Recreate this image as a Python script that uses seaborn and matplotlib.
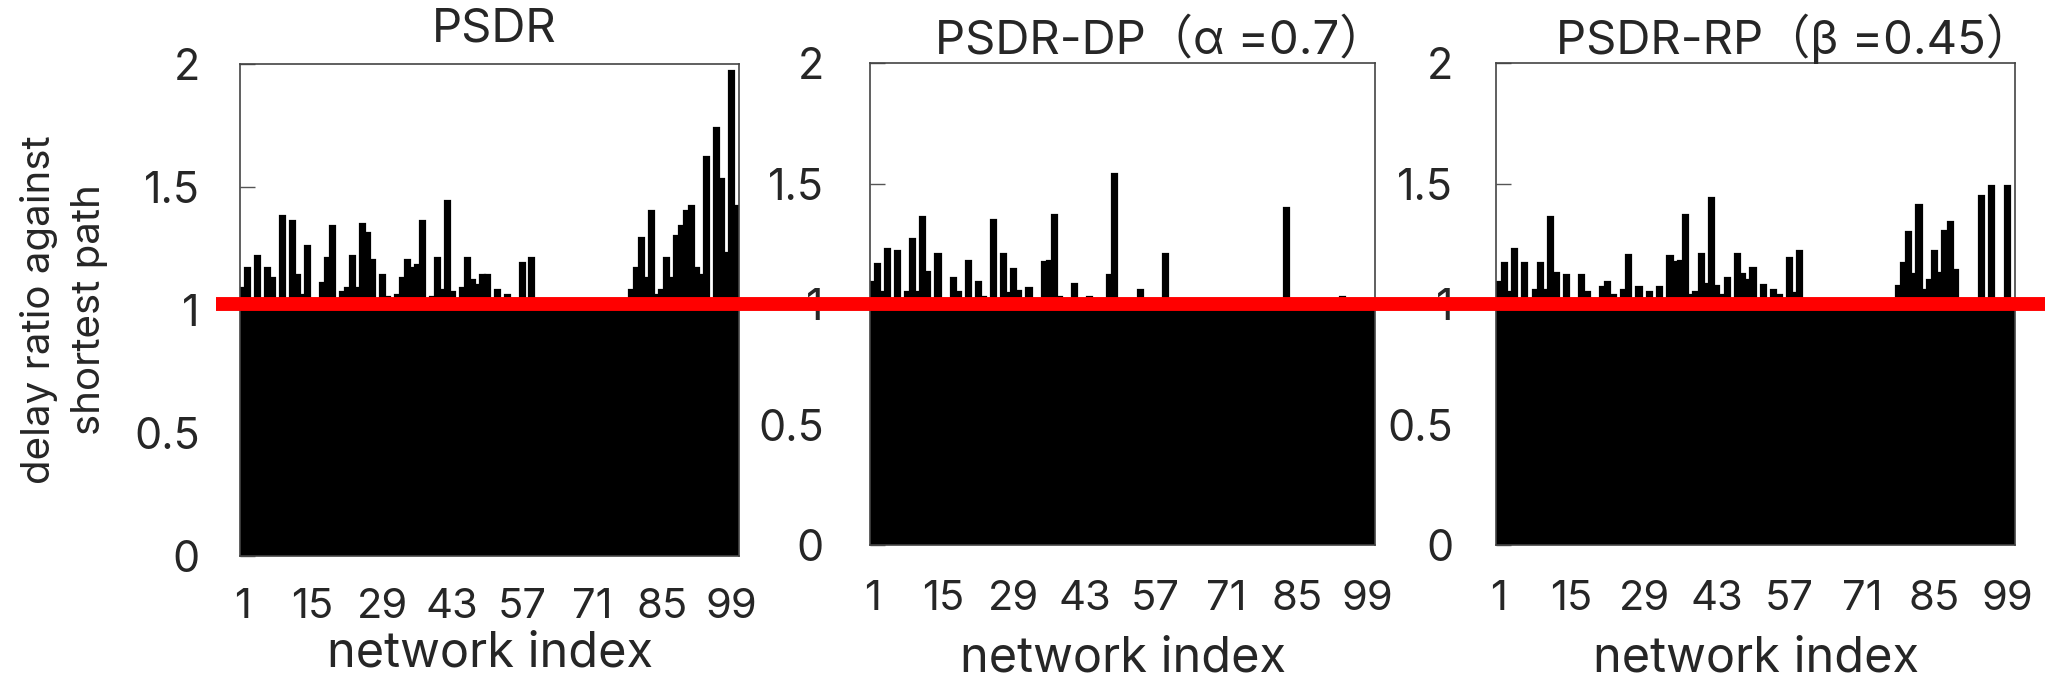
import pandas as pd
import matplotlib.pyplot as plt
import seaborn as sns
from matplotlib.lines import Line2D
from matplotlib.transforms import blended_transform_factory

# ============================================
# Data
# ============================================
network_index = list(range(1, 101))

psdr = [
    1.09, 1.17, 1.04, 1.22, 1.02, 1.17, 1.13, 1.02, 1.38, 1.03,
    1.36, 1.14, 1.06, 1.26, 1.00, 1.00, 1.11, 1.21, 1.34, 1.02,
    1.07, 1.09, 1.22, 1.09, 1.35, 1.31, 1.20, 1.02, 1.14, 1.05,
    1.00, 1.06, 1.13, 1.20, 1.17, 1.18, 1.36, 1.02, 1.05, 1.21,
    1.08, 1.44, 1.07, 1.02, 1.09, 1.21, 1.12, 1.10, 1.14, 1.14,
    1.02, 1.08, 1.02, 1.06, 1.00, 1.00, 1.19, 1.00, 1.21, 1.00,
    1.00, 1.00, 1.00, 1.00, 1.00, 1.00, 1.00, 1.00, 1.00, 1.00,
    1.00, 1.00, 1.00, 1.00, 1.00, 1.00, 1.00, 1.00, 1.08, 1.17,
    1.29, 1.13, 1.40, 1.06, 1.08, 1.21, 1.13, 1.30, 1.34, 1.40,
    1.42, 1.17, 1.14, 1.62, 1.02, 1.74, 1.53, 1.23, 1.97, 1.42,
]

psdr_dp = [
    1.09, 1.165, 1.05, 1.23, 1.00, 1.22, 1.00, 1.05, 1.27, 1.05,
    1.36, 1.135, 1.00, 1.21, 1.00, 1.00, 1.11, 1.05, 1.00, 1.18,
    1.00, 1.09, 1.03, 1.00, 1.35, 1.00, 1.21, 1.045, 1.145, 1.055,
    1.00, 1.065, 1.00, 1.00, 1.175, 1.18, 1.37, 1.03, 1.00, 1.00,
    1.085, 1.00, 1.00, 1.03, 1.00, 1.00, 1.00, 1.12, 1.54, 1.00,
    1.00, 1.00, 1.00, 1.06, 1.00, 1.00, 1.00, 1.00, 1.21, 1.00,
    1.00, 1.00, 1.00, 1.00, 1.00, 1.00, 1.00, 1.00, 1.00, 1.00,
    1.00, 1.00, 1.00, 1.00, 1.00, 1.00, 1.00, 1.00, 1.00, 1.00,
    1.00, 1.00, 1.40, 1.00, 1.00, 1.00, 1.00, 1.00, 1.00, 1.00,
    1.00, 1.00, 1.00, 1.03, 1.00, 1.00, 1.00, 1.00, 1.00, 1.00,
]

psdr_rp = [
    1.09, 1.17, 1.05, 1.23, 1.00, 1.17, 1.00, 1.06, 1.17, 1.06,
    1.36, 1.13, 1.02, 1.12, 1.00, 1.00, 1.12, 1.05, 1.00, 1.00,
    1.07, 1.09, 1.04, 1.00, 1.06, 1.205, 1.00, 1.07, 1.00, 1.05,
    1.00, 1.07, 1.00, 1.20, 1.175, 1.18, 1.37, 1.04, 1.05, 1.21,
    1.085, 1.44, 1.075, 1.04, 1.11, 1.00, 1.21, 1.125, 1.10, 1.15,
    1.00, 1.08, 1.00, 1.06, 1.04, 1.00, 1.19, 1.045, 1.22, 1.00,
    1.00, 1.00, 1.00, 1.00, 1.00, 1.00, 1.00, 1.00, 1.00, 1.00,
    1.01, 1.00, 1.00, 1.00, 1.00, 1.00, 1.00, 1.075, 1.17, 1.30,
    1.125, 1.41, 1.06, 1.10, 1.22, 1.13, 1.305, 1.34, 1.14, 1.00,
    1.00, 1.00, 1.00, 1.45, 1.00, 1.49, 1.00, 1.00, 1.49, 1.00,
]

panel_titles = ["PSDR", "PSDR-DP（α =0.7）", "PSDR-RP（β =0.45）"]
y_ticks = [0, 0.5, 1, 1.5, 2]
y_tick_labels = ["0", "0.5", "1", "1.5", "2"]
x_tick_labels = ["1", "15", "29", "43", "57", "71", "85", "99"]
shortest_path_ratio = 1.0

# ============================================
# Style
# ============================================
sns.set_theme(style="white")
plt.rcParams["font.family"] = ["Inter", "Noto Sans CJK SC", "DejaVu Sans"]

fig = plt.figure(figsize=(20.45, 6.82), dpi=100)

# panel layout: [left, bottom, width, height] in figure fraction
axes_rects = [
    [0.1174, 0.1852, 0.2440, 0.7214],
    [0.4253, 0.2009, 0.2472, 0.7063],
    [0.7317, 0.2009, 0.2536, 0.7063],
]
title_pads = [16, 7, 7]
title_x = [0.51, 0.575, 0.575]
ytick_pads = [29, 33, 31]
xtick_pads = [23, 25, 25]
xlabel_y = [-0.198, -0.236, -0.236]

series = [psdr, psdr_dp, psdr_rp]
axes = []

for i, values in enumerate(series):
    ax = fig.add_axes(axes_rects[i])
    df = pd.DataFrame({"network": network_index, "ratio": values})
    sns.barplot(data=df, x="network", y="ratio",
                color="black", saturation=1, width=1.0,
                edgecolor="black", linewidth=1.6,
                errorbar=None, ax=ax)

    ax.set_ylim(0, 2)
    ax.set_xlim(-0.5, len(network_index) - 0.5)
    ax.set_yticks(y_ticks)
    ax.set_yticklabels(y_tick_labels)
    ax.set_xticks([network_index.index(int(l)) for l in x_tick_labels])
    ax.set_xticklabels(x_tick_labels)

    ax.tick_params(axis="y", direction="in", left=True, length=11, width=1,
                   color="#555555", labelsize=31, pad=ytick_pads[i])
    ax.tick_params(axis="x", bottom=False, length=0, labelsize=30,
                   pad=xtick_pads[i])

    for side in ["top", "right", "bottom", "left"]:
        ax.spines[side].set_color("#444444")
        ax.spines[side].set_linewidth(1.2)

    ax.set_title(panel_titles[i], fontsize=34, pad=title_pads[i], x=title_x[i])
    ax.set_xlabel("network index", fontsize=35, va="center")
    ax.xaxis.set_label_coords(0.5, xlabel_y[i])
    ax.set_ylabel("")
    axes.append(ax)

axes[0].set_ylabel("delay ratio against\nshortest path", fontsize=29,
                   linespacing=1.45)
axes[0].yaxis.set_label_coords(-0.265, 0.5)

# red reference line at ratio = 1, drawn across the whole figure
red_line = Line2D([0.1056, 1.0], [shortest_path_ratio, shortest_path_ratio],
                  transform=blended_transform_factory(fig.transFigure, axes[1].transData),
                  color="#FF0000", linewidth=10, solid_capstyle="butt", zorder=10)
fig.add_artist(red_line)

fig.savefig("out.png", dpi=100)
plt.close(fig)
